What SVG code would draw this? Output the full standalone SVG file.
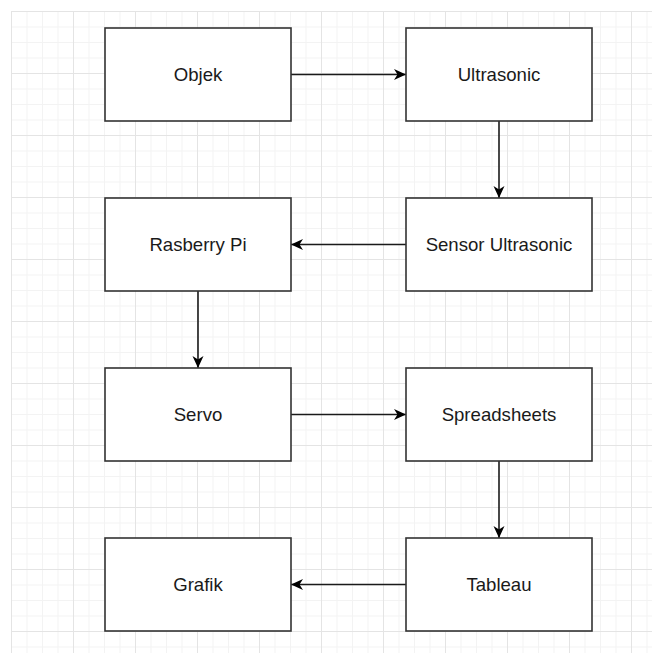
<svg xmlns="http://www.w3.org/2000/svg" width="666" height="653" viewBox="0 0 666 653">
  <defs>
    <pattern id="grid" patternUnits="userSpaceOnUse" x="11" y="11" width="62" height="62">
      <path d="M16,0V62M31.5,0V62M47,0V62M0,16H62M0,31.5H62M0,47H62" stroke="#f3f3f3" stroke-width="1" fill="none"/>
      <path d="M0.5,0V62M0,0.5H62" stroke="#e4e4e4" stroke-width="1" fill="none"/>
    </pattern>
    <marker id="arrow" viewBox="0 0 12 12" refX="12" refY="6" markerWidth="12" markerHeight="12" markerUnits="userSpaceOnUse" orient="auto">
      <path d="M0,0.5 L12,6 L0,11.5 L3.5,6 Z" fill="#000"/>
    </marker>
    <style>
      .box { fill: #ffffff; stroke: #333333; stroke-width: 1.6; }
      .lbl { font-family: "Liberation Sans", Arial, Helvetica, sans-serif; font-size: 18.6px; fill: #1a1a1a; text-anchor: middle; }
      .edge { stroke: #1a1a1a; stroke-width: 1.6; fill: none; marker-end: url(#arrow); }
    </style>
  </defs>
  <rect x="0" y="0" width="666" height="653" fill="#ffffff"/>
  <rect x="11" y="11" width="641" height="642" fill="url(#grid)"/>

  <g id="connectors">
    <line class="edge" x1="291" y1="74.5" x2="406" y2="74.5"/>
    <line class="edge" x1="499" y1="121" x2="499" y2="198"/>
    <line class="edge" x1="406" y1="244.5" x2="291" y2="244.5"/>
    <line class="edge" x1="198" y1="291" x2="198" y2="368"/>
    <line class="edge" x1="291" y1="414.5" x2="406" y2="414.5"/>
    <line class="edge" x1="499" y1="461" x2="499" y2="538"/>
    <line class="edge" x1="406" y1="584.5" x2="291" y2="584.5"/>
  </g>

  <g id="objek">
    <rect class="box" x="105" y="28" width="186" height="93"/>
    <text class="lbl" x="198" y="81">Objek</text>
  </g>
  <g id="ultrasonic">
    <rect class="box" x="406" y="28" width="186" height="93"/>
    <text class="lbl" x="499" y="81">Ultrasonic</text>
  </g>
  <g id="rasberry-pi">
    <rect class="box" x="105" y="198" width="186" height="93"/>
    <text class="lbl" x="198" y="251">Rasberry Pi</text>
  </g>
  <g id="sensor-ultrasonic">
    <rect class="box" x="406" y="198" width="186" height="93"/>
    <text class="lbl" x="499" y="251">Sensor Ultrasonic</text>
  </g>
  <g id="servo">
    <rect class="box" x="105" y="368" width="186" height="93"/>
    <text class="lbl" x="198" y="421">Servo</text>
  </g>
  <g id="spreadsheets">
    <rect class="box" x="406" y="368" width="186" height="93"/>
    <text class="lbl" x="499" y="421">Spreadsheets</text>
  </g>
  <g id="grafik">
    <rect class="box" x="105" y="538" width="186" height="93"/>
    <text class="lbl" x="198" y="591">Grafik</text>
  </g>
  <g id="tableau">
    <rect class="box" x="406" y="538" width="186" height="93"/>
    <text class="lbl" x="499" y="591">Tableau</text>
  </g>
</svg>
